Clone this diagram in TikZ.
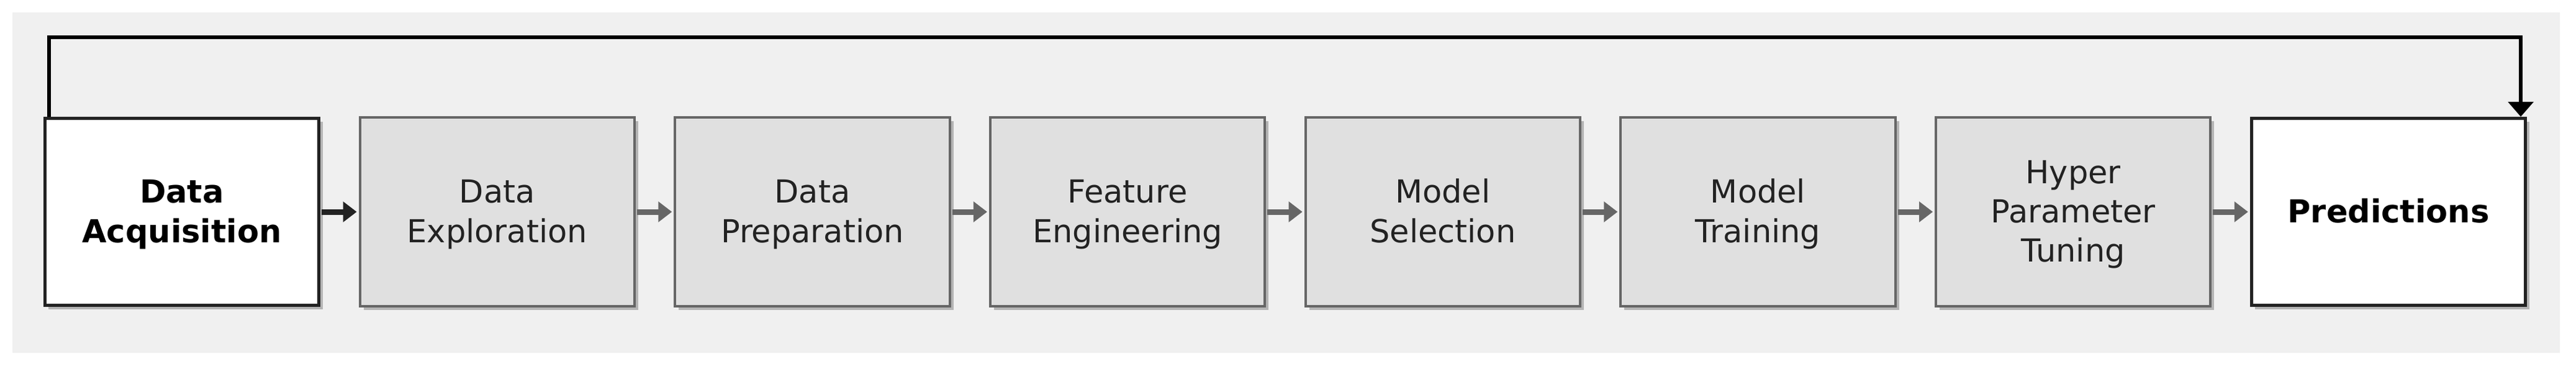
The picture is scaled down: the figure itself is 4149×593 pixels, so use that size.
\documentclass[tikz,border=0pt]{standalone}
\usepackage{fontspec}
\setmainfont{DejaVu Sans}
\usetikzlibrary{arrows.meta,shadows}
\definecolor{bgc}{HTML}{F0F0F0}
\definecolor{boxfill}{HTML}{E0E0E0}
\definecolor{boxline}{HTML}{666666}
\definecolor{darkline}{HTML}{222222}
\definecolor{txtc}{HTML}{222222}
\definecolor{shadowc}{HTML}{B4B4B4}
\newcommand{\linestrut}{\rule[-4pt]{0pt}{18pt}}
\begin{document}
\begin{tikzpicture}[x=0.01cm,y=-0.01cm,
  stage/.style={rectangle, draw=boxline, line width=0.04cm, fill=boxfill,
    minimum width=4.42cm, minimum height=3.03cm, inner sep=0pt, align=center,
    text=txtc, font=\fontsize{14.5pt}{18pt}\selectfont,
    drop shadow={shadow xshift=0.06cm, shadow yshift=-0.06cm, fill=shadowc, opacity=1}},
  endstage/.style={stage, draw=darkline, line width=0.05cm, fill=white, text=black,
    font=\fontsize{14.5pt}{18pt}\selectfont\bfseries,
    minimum width=4.41cm, minimum height=3.01cm},
  flow/.style={draw=boxline, fill=boxline, line width=0.09cm,
    -{Triangle[length=0.22cm,width=0.32cm]},
    shorten <=0.02cm, shorten >=0.03cm},
  darkflow/.style={flow, draw=darkline, fill=darkline},
  loopback/.style={draw=black, line width=0.06cm, line join=miter,
    -{Triangle[length=0.24cm,width=0.40cm]}}
]
\useasboundingbox (0,0) rectangle (4149,593);
\fill[bgc] (20,20) rectangle (4123,568);

\node[endstage] (n1) at (293,341) {Data\linestrut\\Acquisition\linestrut};
\node[stage] (n2) at (800.7,341) {Data\linestrut\\Exploration\linestrut};
\node[stage] (n3) at (1308.4,341) {Data\linestrut\\Preparation\linestrut};
\node[stage] (n4) at (1816.1,341) {Feature\linestrut\\Engineering\linestrut};
\node[stage] (n5) at (2323.8,341) {Model\linestrut\\Selection\linestrut};
\node[stage] (n6) at (2831.5,341) {Model\linestrut\\Training\linestrut};
\node[stage] (n7) at (3339.2,341) {Hyper\linestrut\\Parameter\linestrut\\Tuning\linestrut};
\node[endstage] (n8) at (3846.9,341) {Predictions\linestrut};

\draw[darkflow] (n1) -- (n2);
\draw[flow] (n2) -- (n3);
\draw[flow] (n3) -- (n4);
\draw[flow] (n4) -- (n5);
\draw[flow] (n5) -- (n6);
\draw[flow] (n6) -- (n7);
\draw[flow] (n7) -- (n8);

\coordinate (c1) at (79,60);
\coordinate (c2) at (4060,60);
\draw[loopback] (c1 |- n1.north) -- (c1) -- (c2) -- (c2 |- n8.north);
\end{tikzpicture}
\end{document}
